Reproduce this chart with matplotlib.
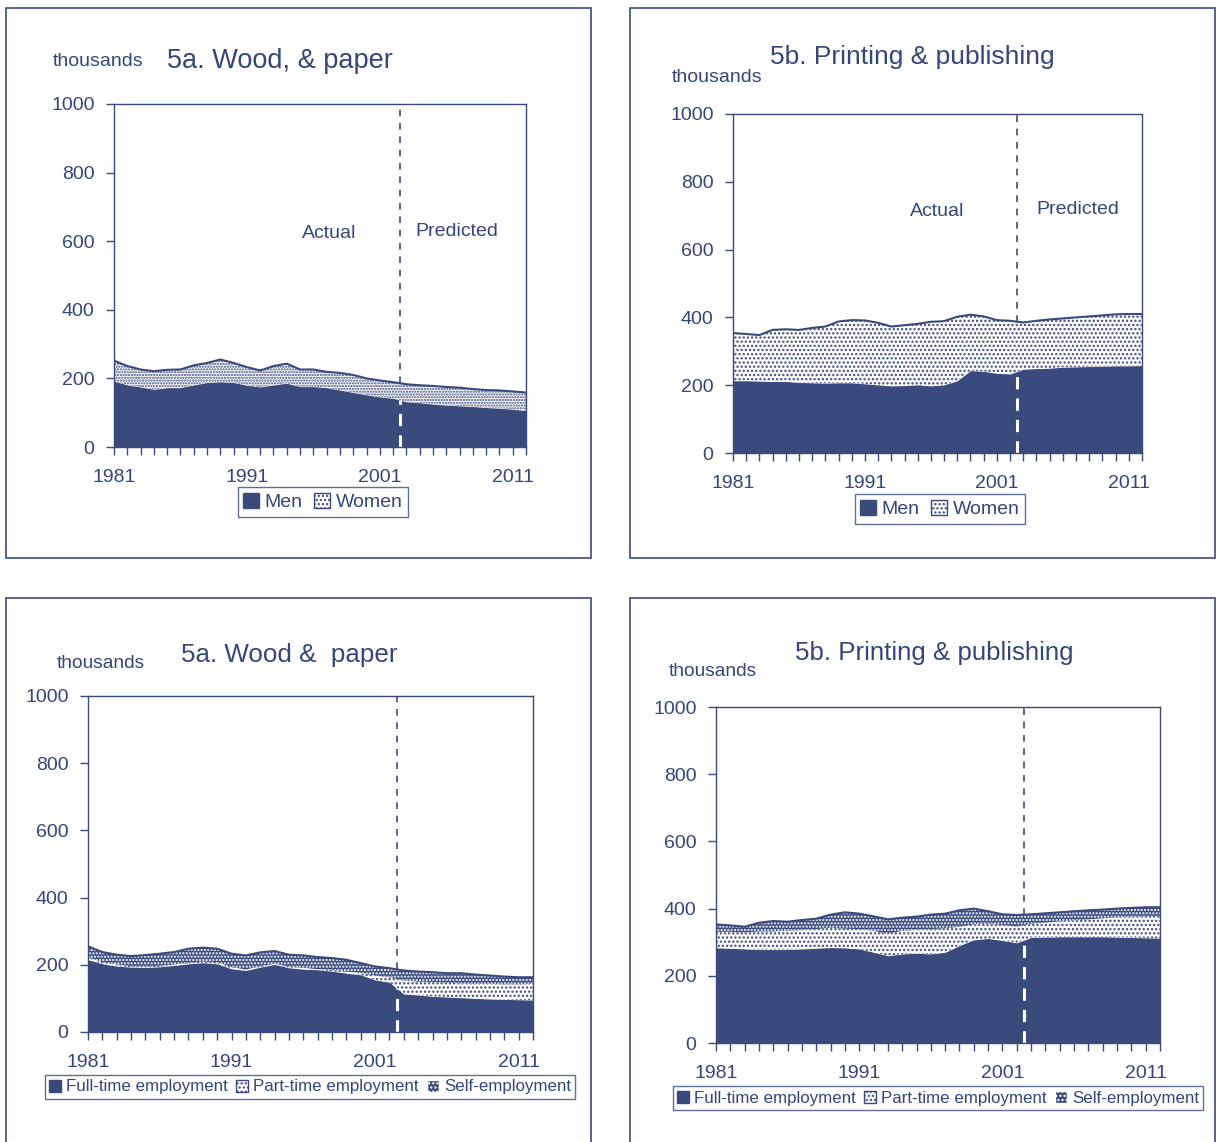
import numpy as np
import matplotlib.pyplot as plt
from matplotlib.patches import Rectangle, Patch

plt.rcParams['font.family'] = ['Liberation Sans', 'DejaVu Sans']
plt.rcParams['hatch.linewidth'] = 1.1

navy = '#3a4a7d'
txt = '#34467a'

years = np.arange(1981, 2013)
year_labels = [1981, 1991, 2001, 2011]
split_year = 2002.5

# 5a wood & paper, by sex (thousands)
wood_men = [192, 181, 175, 168, 173, 173, 181, 188, 190, 188, 180, 175, 181, 186, 176, 176,
            173, 166, 159, 152, 146, 142, 132, 129, 125, 122, 120, 118, 115, 113, 110, 106]
wood_total = [252, 236, 226, 221, 225, 226, 238, 245, 255, 245, 233, 223, 236, 243, 226, 226,
              219, 216, 210, 200, 194, 189, 183, 180, 178, 175, 173, 169, 166, 165, 162, 159]

# 5b printing & publishing, by sex
print_men = [213, 213, 212, 211, 211, 208, 207, 206, 207, 207, 204, 201, 198, 199, 201, 198,
             201, 213, 243, 241, 235, 233, 247, 249, 250, 253, 254, 255, 256, 257, 257, 258]
print_total = [354, 351, 348, 363, 365, 363, 369, 373, 388, 392, 391, 384, 373, 377, 381, 387,
               389, 402, 408, 403, 392, 390, 385, 390, 394, 397, 400, 403, 406, 409, 410, 410]

# 5a wood & paper, by employment type (cumulative tops)
wood_ft = [215, 203, 196, 193, 192, 194, 198, 203, 206, 203, 188, 183, 193, 201, 191, 187,
           185, 181, 175, 170, 155, 148, 113, 110, 106, 104, 102, 100, 98, 97, 96, 95]
wood_ftpt = [223, 208, 201, 196, 195, 197, 201, 206, 210, 208, 193, 186, 196, 203, 195, 191,
             187, 185, 180, 176, 168, 163, 153, 150, 149, 147, 145, 143, 143, 142, 142, 143]
wood_all = [255, 238, 230, 226, 229, 233, 238, 248, 251, 248, 233, 228, 237, 241, 230, 228,
            223, 220, 215, 205, 195, 190, 183, 180, 178, 175, 175, 171, 168, 165, 163, 163]

# 5b printing & publishing, by employment type (cumulative tops)
print_ft = [283, 282, 280, 278, 278, 278, 280, 282, 284, 283, 280, 270, 260, 265, 267, 265,
            270, 290, 307, 311, 305, 298, 314, 315, 316, 316, 316, 316, 315, 314, 313, 312]
print_ftpt = [331, 331, 329, 332, 332, 334, 336, 339, 343, 340, 339, 334, 324, 334, 337, 339,
              341, 346, 353, 355, 351, 346, 355, 358, 362, 365, 368, 371, 374, 376, 377, 378]
print_all = [353, 350, 346, 358, 363, 361, 366, 370, 382, 389, 385, 377, 368, 373, 376, 382,
             385, 395, 400, 392, 383, 381, 383, 386, 389, 392, 395, 397, 400, 402, 404, 404]

W, H = 1220, 1142
fig = plt.figure(figsize=(W / 100, H / 100), dpi=100)


def box(l, t, r, b):
    return [l / W, 1 - b / H, (r - l) / W, (b - t) / H]


def ftext(x, y, s, size, ha='left'):
    fig.text(x / W, 1 - y / H, s, fontsize=size, color=txt, ha=ha, va='center')


# panel frames
for l, t, r, b in [(6, 8, 591, 558), (630, 8, 1215, 558), (6, 598, 591, 1150), (630, 598, 1215, 1150)]:
    fig.add_artist(Rectangle((l / W, 1 - b / H), (r - l) / W, (b - t) / H, transform=fig.transFigure,
                             fill=False, edgecolor=navy, lw=1.2))


def setup(ax):
    ax.set_xlim(1981, 2012)
    ax.set_ylim(0, 1000)
    ax.set_yticks(range(0, 1001, 200))
    ax.set_xticks(year_labels)
    ax.set_xticks(years, minor=True)
    ax.tick_params(axis='both', which='both', colors=navy, labelcolor=txt, labelsize=14, length=6, width=1)
    ax.tick_params(axis='x', pad=10)
    ax.tick_params(axis='y', pad=8)
    for s in ax.spines.values():
        s.set_color(navy)
        s.set_linewidth(1)


def split_line(ax, bottom_series, top_series):
    y_low = np.interp(split_year, years, bottom_series)
    y_top = np.interp(split_year, years, top_series)
    ax.plot([split_year, split_year], [y_top, 1000], color=navy, ls=(0, (4, 4)), lw=1.2)
    ax.plot([split_year, split_year], [0, y_low], color='white', ls=(0, (4, 3)), lw=2.2)


def style_legend(leg):
    leg.get_frame().set_edgecolor(navy)
    leg.get_frame().set_linewidth(1)
    for t in leg.get_texts():
        t.set_color(txt)


def sex_panel(rect, men, total, women_hatch, title, title_size, title_xy, th_xy, act_xy, pred_xy, leg_xy):
    ax = fig.add_axes(box(*rect))
    ax.fill_between(years, 0, men, color=navy, lw=0)
    ax.fill_between(years, men, total, facecolor='white', edgecolor=navy, hatch=women_hatch, lw=0)
    ax.plot(years, total, color=navy, lw=1.5)
    setup(ax)
    split_line(ax, men, total)
    ftext(*title_xy, title, title_size)
    ftext(*th_xy, 'thousands', 14)
    ftext(*act_xy, 'Actual', 14, ha='center')
    ftext(*pred_xy, 'Predicted', 14, ha='center')
    handles = [Patch(facecolor=navy, edgecolor=navy),
               Patch(facecolor='white', edgecolor=navy, hatch='....')]
    leg = fig.legend(handles, ['Men', 'Women'], loc='center', bbox_to_anchor=(leg_xy[0] / W, 1 - leg_xy[1] / H),
                     ncol=2, fontsize=14, frameon=True, fancybox=False, handlelength=0.8, handleheight=0.8,
                     handletextpad=0.3, columnspacing=0.6, borderpad=0.3)
    style_legend(leg)
    return ax


def type_panel(rect, ft, ftpt, total, title, title_size, title_xy, th_xy, leg_xy):
    ax = fig.add_axes(box(*rect))
    ax.fill_between(years, 0, ft, color=navy, lw=0)
    ax.fill_between(years, ft, ftpt, facecolor='white', edgecolor=navy, hatch='....', lw=0)
    ax.fill_between(years, ftpt, total, facecolor=navy, edgecolor='white', hatch='.....', lw=0)
    ax.plot(years, total, color=navy, lw=1.5)
    setup(ax)
    split_line(ax, ft, total)
    ftext(*title_xy, title, title_size)
    ftext(*th_xy, 'thousands', 13.8)
    handles = [Patch(facecolor=navy, edgecolor=navy),
               Patch(facecolor='white', edgecolor=navy, hatch='....'),
               Patch(facecolor=navy, edgecolor='white', hatch='....')]
    leg = fig.legend(handles, ['Full-time employment', 'Part-time employment', 'Self-employment'], loc='center',
                     bbox_to_anchor=(leg_xy[0] / W, 1 - leg_xy[1] / H), ncol=3, fontsize=12.2, frameon=True,
                     fancybox=False, handlelength=0.7, handleheight=0.7, handletextpad=0.3, columnspacing=0.5,
                     borderpad=0.25)
    style_legend(leg)
    return ax


sex_panel((114, 104, 526, 447), wood_men, wood_total, '......', '5a. Wood, & paper', 19.5, (167, 61), (53, 62),
          (329, 234), (457, 232), (323, 502))
sex_panel((733, 114, 1142, 453), print_men, print_total, '....', '5b. Printing & publishing', 19, (770, 57),
          (672, 77), (937, 211), (1078, 209), (940, 509))
type_panel((88, 696, 533, 1032), wood_ft, wood_ftpt, wood_all, '5a. Wood &  paper', 18.7, (181, 655), (57, 664),
           (310, 1087))
type_panel((716, 707, 1160, 1043), print_ft, print_ftpt, print_all, '5b. Printing & publishing', 18.6,
           (795, 653), (669, 672), (938, 1098))

fig.savefig('out.png', dpi=100, facecolor='white')
